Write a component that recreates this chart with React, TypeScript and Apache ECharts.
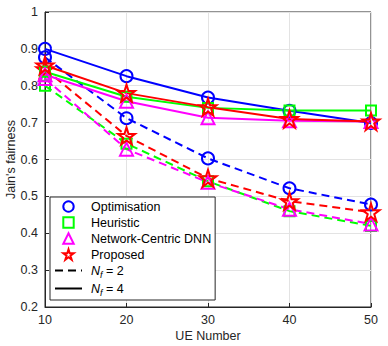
import React, { useEffect, useRef } from "react";
import * as echarts from "echarts";

const ueNumbers = [10, 20, 30, 40, 50];
const yTicks = [0.2, 0.3, 0.4, 0.5, 0.6, 0.7, 0.8, 0.9, 1];

// Nf = 4 (solid)
const opt4 = [0.9, 0.826, 0.768, 0.732, 0.699];
const heu4 = [0.838, 0.77, 0.74, 0.733, 0.733];
const dnn4 = [0.83, 0.758, 0.713, 0.705, 0.703];
const prop4 = [0.855, 0.78, 0.742, 0.71, 0.703];

// Nf = 2 (dashed)
const opt2 = [0.877, 0.712, 0.603, 0.522, 0.478];
const heu2 = [0.8, 0.643, 0.541, 0.46, 0.42];
const dnn2 = [0.82, 0.628, 0.538, 0.465, 0.425];
const prop2 = [0.845, 0.664, 0.549, 0.487, 0.457];

const STAR =
  "path://M50 0 L61.23 34.55 L97.55 34.55 L68.17 55.9 L79.39 90.45 L50 69.1 L20.61 90.45 L31.83 55.9 L2.45 34.55 L38.77 34.55 Z";

const methods = [
  { name: "Optimisation", color: "#0000ff", symbol: "circle", size: 12, d2: opt2, d4: opt4 },
  { name: "Heuristic", color: "#00ff00", symbol: "rect", size: 10, d2: heu2, d4: heu4 },
  { name: "Network-Centric DNN", color: "#ff00ff", symbol: "triangle", size: 13, d2: dnn2, d4: dnn4 },
  { name: "Proposed", color: "#ff0000", symbol: STAR, size: 17, d2: prop2, d4: prop4 },
];

export default function App() {
  const ref = useRef<HTMLDivElement>(null);
  useEffect(() => {
    if (!ref.current) return;
    const chart = echarts.init(ref.current, undefined, { renderer: "svg" });
    const font = "Liberation Sans, Arial, sans-serif";
    const series: any[] = [];
    methods.forEach((m) => {
      (["d2", "d4"] as const).forEach((k) => {
        series.push({
          type: "line",
          name: m.name + (k === "d2" ? " (2)" : " (4)"),
          data: ueNumbers.map((x, i) => [x, (m as any)[k][i]]),
          symbol: m.symbol,
          symbolSize: m.size,
          showAllSymbol: true,
          lineStyle: { color: m.color, width: 2, type: k === "d2" ? [8, 5] : "solid" },
          itemStyle: { color: "transparent", borderColor: m.color, borderWidth: 2 },
          z: k === "d2" ? 2 : 3,
        });
      });
    });
    // legend-only series
    methods.forEach((m) => {
      series.push({
        type: "line",
        name: m.name,
        data: [],
        symbol: m.symbol,
        symbolSize: m.size,
        lineStyle: { color: m.color, width: 0, opacity: 0 },
        itemStyle: { color: "transparent", borderColor: m.color, borderWidth: 2 },
      });
    });
    series.push({
      type: "line",
      name: "Nf2",
      data: [],
      symbol: "none",
      lineStyle: { color: "#000", width: 2, type: [8, 5] },
      itemStyle: { color: "#000", opacity: 0 },
    });
    series.push({
      type: "line",
      name: "Nf4",
      data: [],
      symbol: "none",
      lineStyle: { color: "#000", width: 2 },
      itemStyle: { color: "#000", opacity: 0 },
    });

    chart.setOption({
      animation: false,
      backgroundColor: "#fff",
      textStyle: { fontFamily: font },
      grid: {
        left: 45,
        right: 17,
        top: 12,
        bottom: 39,
        containLabel: false,
        outerBoundsMode: "none",
        show: true,
        borderColor: "#262626",
        borderWidth: 1,
      },
      xAxis: {
        type: "value",
        min: 10,
        max: 50,
        interval: 10,
        name: "UE Number",
        nameLocation: "middle",
        nameMoveOverlap: false,
        nameGap: 22,
        nameTextStyle: { color: "#262626", fontSize: 12.5, fontFamily: font },
        axisLine: { lineStyle: { color: "#262626" } },
        axisTick: { inside: true, length: 4, lineStyle: { color: "#262626" } },
        axisLabel: { color: "#262626", fontSize: 12.5, margin: 6, fontFamily: font },
        splitLine: { show: true, lineStyle: { color: "#e3e3e3" } },
      },
      yAxis: {
        type: "value",
        min: 0.2,
        max: 1,
        interval: 0.1,
        name: "Jain's fairness",
        nameLocation: "middle",
        nameMoveOverlap: false,
        nameGap: 28,
        nameTextStyle: { color: "#262626", fontSize: 12.5, fontFamily: font },
        axisLine: { lineStyle: { color: "#262626" } },
        axisTick: { inside: true, length: 4, lineStyle: { color: "#262626" } },
        axisLabel: {
          color: "#262626",
          fontSize: 12.5,
          margin: 7,
          fontFamily: font,
          formatter: (v: number) => {
            const t = yTicks.find((y) => Math.abs(y - v) < 1e-6);
            return t === undefined ? "" : String(Math.round(t * 10) / 10);
          },
        },
        splitLine: { show: true, lineStyle: { color: "#e3e3e3" } },
      },
      legend: {
        orient: "vertical",
        left: 50,
        top: 197,
        width: 169,
        padding: [3, 4, 3, 4],
        itemWidth: 27,
        itemHeight: 13,
        itemGap: 3,
        backgroundColor: "#fff",
        borderColor: "#262626",
        borderWidth: 1,
        data: [
          "Optimisation",
          "Heuristic",
          "Network-Centric DNN",
          "Proposed",
          { name: "Nf2", itemStyle: { opacity: 0 } },
          { name: "Nf4", itemStyle: { opacity: 0 } },
        ],
        textStyle: {
          color: "#000",
          fontSize: 12.5,
          fontFamily: font,
          padding: [0, 0, 0, 4],
          rich: {
            i: { fontStyle: "italic", fontSize: 12.5, fontFamily: font, color: "#000" },
            s: { fontStyle: "italic", fontSize: 9, fontFamily: font, color: "#000", padding: [8, 0, 0, 0] },
            t: { fontSize: 12.5, fontFamily: font, color: "#000" },
          },
        },
        formatter: (name: string) => {
          if (name === "Nf2") return "{i|N}{s|f}{t| = 2}";
          if (name === "Nf4") return "{i|N}{s|f}{t| = 4}";
          return name;
        },
      },
      series,
    });
    return () => chart.dispose();
  }, []);
  return (
    <div
      ref={ref}
      style={{ position: "absolute", left: 0, top: 0, width: 388, height: 346 }}
    />
  );
}
